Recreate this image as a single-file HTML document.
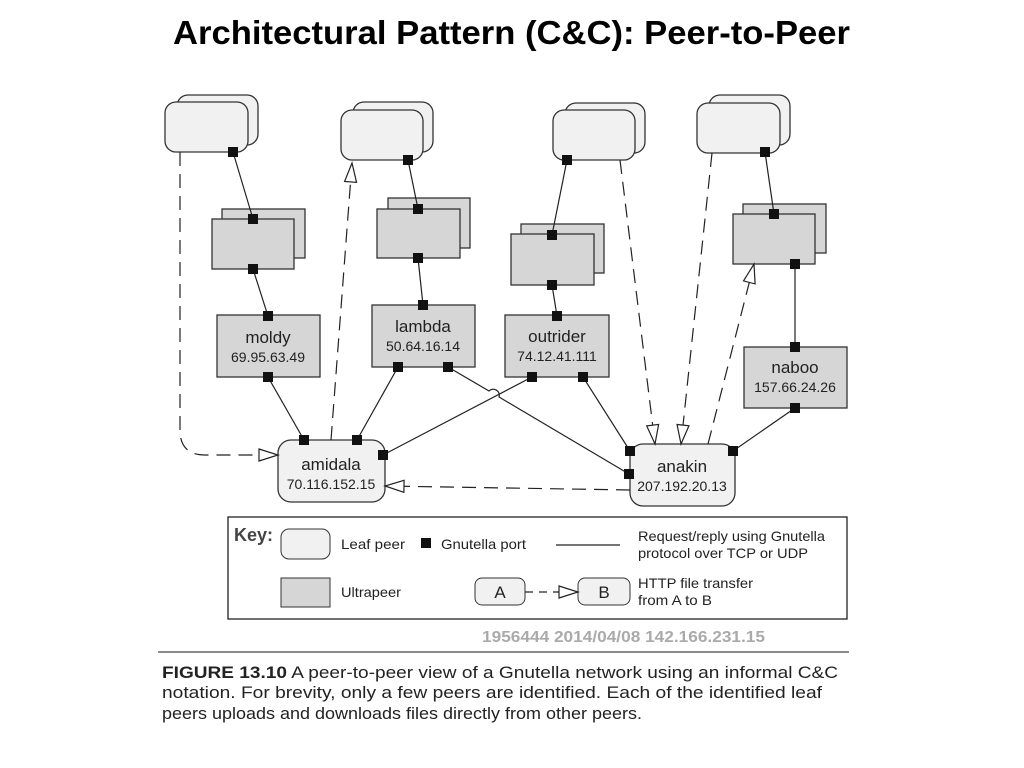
<!DOCTYPE html>
<html><head><style>
body{margin:0;background:#fff;width:1024px;height:768px;overflow:hidden}
svg{position:absolute;left:0;top:0}
text{font-family:"Liberation Sans",sans-serif}
</style></head><body>
<svg width="1024" height="768" viewBox="0 0 1024 768">
<defs>
<marker id="ah" markerWidth="22" markerHeight="14" refX="20" refY="7" orient="auto" markerUnits="userSpaceOnUse">
<path d="M1,1 L20,7 L1,13 Z" fill="#fff" stroke="#222" stroke-width="1.2"/>
</marker>
</defs>
<text x="173" y="44" font-size="33" font-weight="bold" fill="#000" textLength="677" lengthAdjust="spacingAndGlyphs">Architectural Pattern (C&amp;C): Peer-to-Peer</text>
<g stroke="#333" stroke-width="1.3">
<rect x="177" y="95" width="81" height="50" rx="11" fill="#f1f1f1"/>
<rect x="165" y="102" width="83" height="50" rx="11" fill="#f1f1f1"/>
<rect x="353" y="102" width="80" height="50" rx="11" fill="#f1f1f1"/>
<rect x="341" y="110" width="82" height="50" rx="11" fill="#f1f1f1"/>
<rect x="565" y="103" width="80" height="50" rx="11" fill="#f1f1f1"/>
<rect x="553" y="110" width="82" height="50" rx="11" fill="#f1f1f1"/>
<rect x="709" y="95" width="81" height="50" rx="11" fill="#f1f1f1"/>
<rect x="697" y="103" width="83" height="50" rx="11" fill="#f1f1f1"/>
<rect x="222" y="209" width="83" height="49" fill="#d6d6d6"/>
<rect x="212" y="219" width="82" height="50" fill="#d6d6d6"/>
<rect x="388" y="198" width="82" height="50" fill="#d6d6d6"/>
<rect x="377" y="209" width="83" height="49" fill="#d6d6d6"/>
<rect x="521" y="224" width="83" height="49" fill="#d6d6d6"/>
<rect x="511" y="234" width="83" height="51" fill="#d6d6d6"/>
<rect x="743" y="204" width="83" height="49" fill="#d6d6d6"/>
<rect x="733" y="214" width="82" height="50" fill="#d6d6d6"/>
<rect x="217" y="315" width="103" height="62" fill="#d6d6d6"/>
<rect x="372" y="305" width="103" height="62" fill="#d6d6d6"/>
<rect x="505" y="315" width="104" height="62" fill="#d6d6d6"/>
<rect x="744" y="347" width="103" height="61" fill="#d6d6d6"/>
<rect x="278" y="440" width="107" height="62" rx="13" fill="#f1f1f1"/>
<rect x="630" y="444" width="105" height="62" rx="13" fill="#f1f1f1"/>
</g>
<g stroke="#222" stroke-width="1.2" fill="none">
<line x1="233" y1="152" x2="253" y2="219"/>
<line x1="253" y1="269" x2="268" y2="316"/>
<line x1="408" y1="160" x2="418" y2="209"/>
<line x1="418" y1="258" x2="423" y2="305"/>
<line x1="567" y1="160" x2="552" y2="235"/>
<line x1="552" y1="285" x2="557" y2="316"/>
<line x1="765" y1="152" x2="774" y2="214"/>
<line x1="795" y1="264" x2="795" y2="347"/>
<line x1="268" y1="377" x2="304" y2="440"/>
<line x1="398" y1="367" x2="357" y2="440"/>
<path d="M448,367 L489,391 A6,6 0 0 1 499,397 L629,474"/>
<line x1="532" y1="377" x2="383" y2="455"/>
<line x1="583" y1="377" x2="630" y2="451"/>
<line x1="795" y1="408" x2="733" y2="451"/>
</g>
<g stroke="#222" stroke-width="1.2" fill="none" stroke-dasharray="14,8">
<path d="M180,152 L180,430 Q180,455 205,455 L278,455" marker-end="url(#ah)"/>
<path d="M331,440 L352,163" marker-end="url(#ah)"/>
<path d="M620,160 L655,444" marker-end="url(#ah)"/>
<path d="M712,153 L681,444" marker-end="url(#ah)"/>
<path d="M708,444 L754,264" marker-end="url(#ah)"/>
<path d="M630,490 L385,486" marker-end="url(#ah)"/>
</g>
<g fill="#111">
<rect x="228" y="147" width="10" height="10"/>
<rect x="248" y="214" width="10" height="10"/>
<rect x="248" y="264" width="10" height="10"/>
<rect x="263" y="311" width="10" height="10"/>
<rect x="263" y="372" width="10" height="10"/>
<rect x="403" y="155" width="10" height="10"/>
<rect x="413" y="204" width="10" height="10"/>
<rect x="413" y="253" width="10" height="10"/>
<rect x="418" y="300" width="10" height="10"/>
<rect x="393" y="362" width="10" height="10"/>
<rect x="443" y="362" width="10" height="10"/>
<rect x="562" y="155" width="10" height="10"/>
<rect x="547" y="230" width="10" height="10"/>
<rect x="547" y="280" width="10" height="10"/>
<rect x="552" y="311" width="10" height="10"/>
<rect x="527" y="372" width="10" height="10"/>
<rect x="578" y="372" width="10" height="10"/>
<rect x="760" y="147" width="10" height="10"/>
<rect x="769" y="209" width="10" height="10"/>
<rect x="790" y="259" width="10" height="10"/>
<rect x="790" y="342" width="10" height="10"/>
<rect x="790" y="403" width="10" height="10"/>
<rect x="299" y="435" width="10" height="10"/>
<rect x="352" y="435" width="10" height="10"/>
<rect x="378" y="450" width="10" height="10"/>
<rect x="625" y="446" width="10" height="10"/>
<rect x="624" y="469" width="10" height="10"/>
<rect x="728" y="446" width="10" height="10"/>
</g>
<g font-size="17" fill="#222" text-anchor="middle">
<text x="268" y="343">moldy</text><text x="268" y="362" font-size="14">69.95.63.49</text>
<text x="423" y="332">lambda</text><text x="423" y="351" font-size="14">50.64.16.14</text>
<text x="557" y="342">outrider</text><text x="557" y="361" font-size="14">74.12.41.111</text>
<text x="795" y="373">naboo</text><text x="795" y="392" font-size="14">157.66.24.26</text>
<text x="331" y="470">amidala</text><text x="331" y="489" font-size="14">70.116.152.15</text>
<text x="682" y="472">anakin</text><text x="682" y="491" font-size="14">207.192.20.13</text>
</g>
<rect x="228" y="517" width="619" height="102" fill="#fff" stroke="#222" stroke-width="1.3"/>
<text x="234" y="541" font-size="18" font-weight="bold" fill="#444">Key:</text>
<rect x="281" y="529" width="49" height="30" rx="8" fill="#f1f1f1" stroke="#333"/>
<text x="341" y="549" font-size="14" fill="#222" textLength="64" lengthAdjust="spacingAndGlyphs">Leaf peer</text>
<rect x="421" y="538" width="10" height="10" fill="#111"/>
<text x="441" y="549" font-size="14" fill="#222" textLength="85" lengthAdjust="spacingAndGlyphs">Gnutella port</text>
<line x1="556" y1="545" x2="620" y2="545" stroke="#222" stroke-width="1.2"/>
<text x="638" y="541" font-size="14" fill="#222" textLength="187" lengthAdjust="spacingAndGlyphs">Request/reply using Gnutella</text>
<text x="638" y="558" font-size="14" fill="#222" textLength="170" lengthAdjust="spacingAndGlyphs">protocol over TCP or UDP</text>
<rect x="281" y="578" width="49" height="29" fill="#d6d6d6" stroke="#333"/>
<text x="341" y="597" font-size="14" fill="#222" textLength="60" lengthAdjust="spacingAndGlyphs">Ultrapeer</text>
<rect x="475" y="578" width="50" height="27" rx="7" fill="#f1f1f1" stroke="#333"/>
<text x="500" y="598" font-size="17" text-anchor="middle" fill="#222">A</text>
<rect x="578" y="578" width="52" height="27" rx="7" fill="#f1f1f1" stroke="#333"/>
<text x="604" y="598" font-size="17" text-anchor="middle" fill="#222">B</text>
<path d="M525,592 L578,592" stroke="#222" stroke-width="1.2" stroke-dasharray="8,6" marker-end="url(#ah)" fill="none"/>
<text x="638" y="588" font-size="14" fill="#222" textLength="115" lengthAdjust="spacingAndGlyphs">HTTP file transfer</text>
<text x="638" y="605" font-size="14" fill="#222" textLength="74" lengthAdjust="spacingAndGlyphs">from A to B</text>
<text x="482" y="642" font-size="16" font-weight="bold" fill="#aaa" textLength="283" lengthAdjust="spacingAndGlyphs">1956444 2014/04/08 142.166.231.15</text>
<line x1="158" y1="652" x2="849" y2="652" stroke="#444" stroke-width="1.2"/>
<text x="162" y="678" font-size="17" fill="#222" textLength="676" lengthAdjust="spacingAndGlyphs"><tspan font-weight="bold">FIGURE 13.10</tspan>   A peer-to-peer view of a Gnutella network using an informal C&amp;C</text>
<text x="162" y="698" font-size="17" fill="#222" textLength="660" lengthAdjust="spacingAndGlyphs">notation. For brevity, only a few peers are identified. Each of the identified leaf</text>
<text x="162" y="719" font-size="17" fill="#222" textLength="480" lengthAdjust="spacingAndGlyphs">peers uploads and downloads files directly from other peers.</text>
</svg>
</body></html>
